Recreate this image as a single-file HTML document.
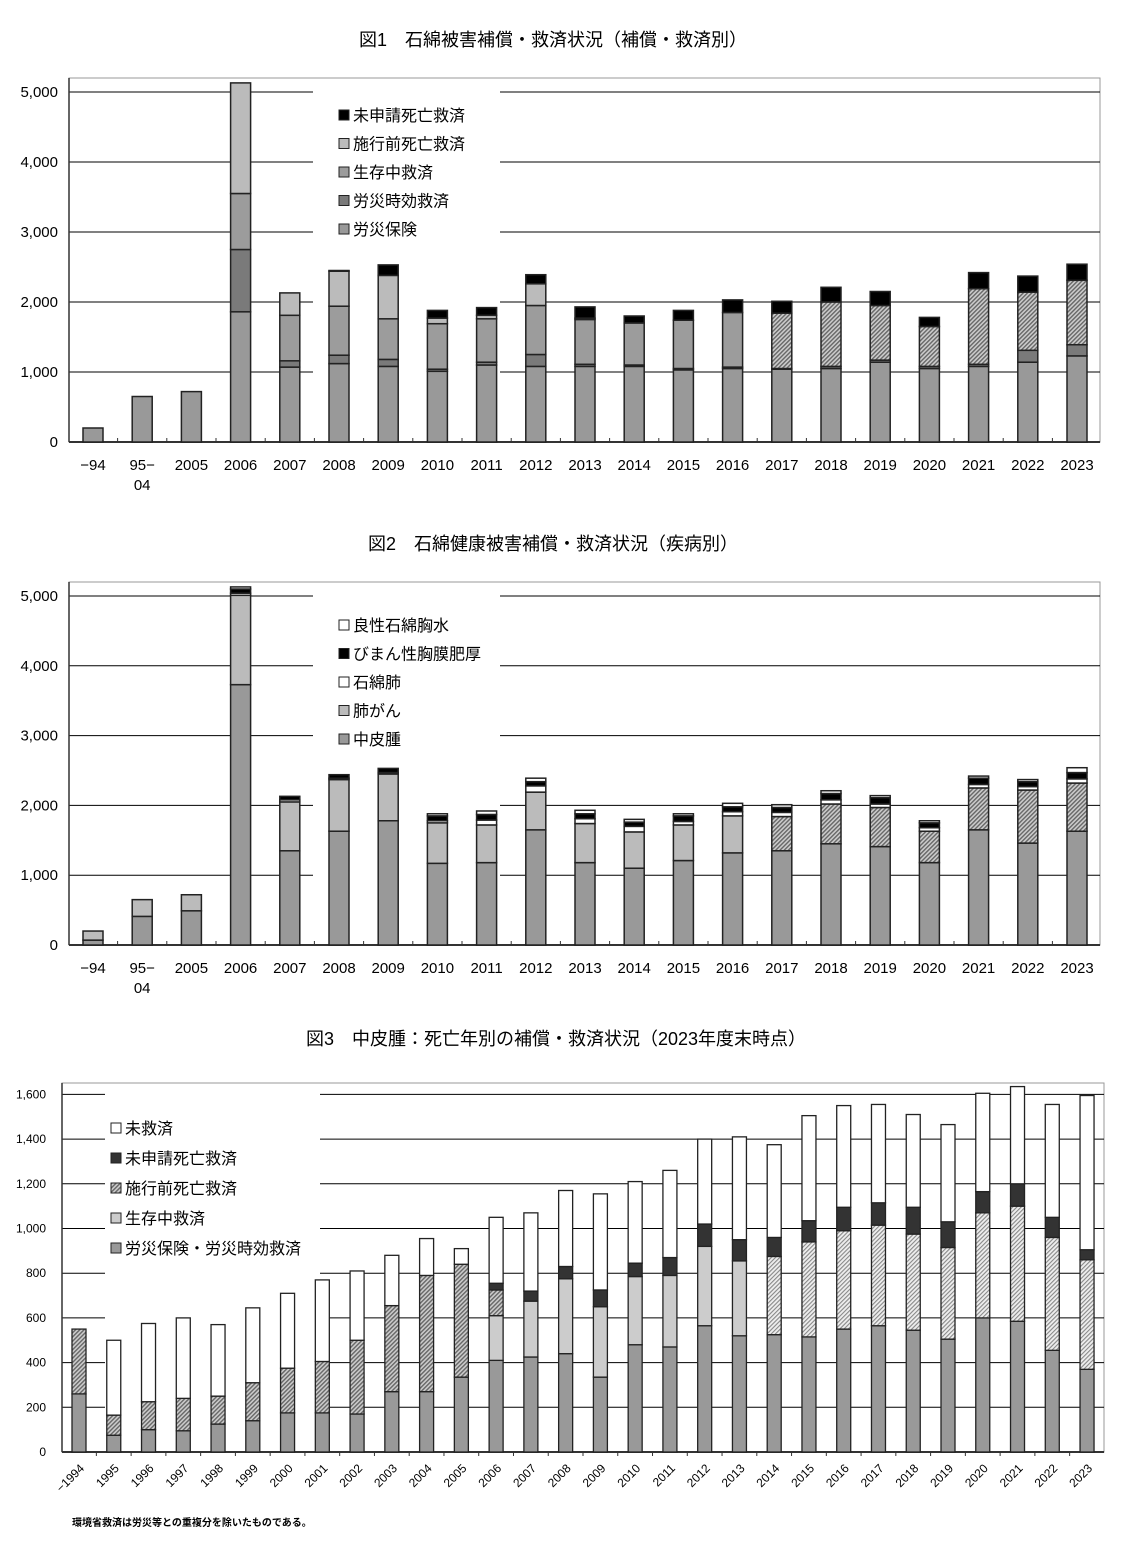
<!DOCTYPE html>
<html><head><meta charset="utf-8"><style>
body{margin:0;background:#fff}
svg text{font-family:"Liberation Sans","Noto Sans CJK JP",sans-serif;fill:#000}
</style></head><body>
<svg id="s" width="1147" height="1543" xmlns="http://www.w3.org/2000/svg">
<defs>
<pattern id="h1" width="3" height="3" patternUnits="userSpaceOnUse" patternTransform="rotate(45)"><rect width="3" height="3" fill="#ccc"/><rect width="1.4" height="3" fill="#666"/></pattern>
<pattern id="h2" width="3" height="3" patternUnits="userSpaceOnUse" patternTransform="rotate(45)"><rect width="3" height="3" fill="#eee"/><rect width="1.1" height="3" fill="#888"/></pattern>
</defs>
</svg>
<script>
const S=document.getElementById('s');let h='';
function t(x,y,s,o){o=o||{};h+=`<text x="${x}" y="${y}" font-size="${o.fs||15}" text-anchor="${o.a||'start'}" ${o.extra||''}>${s}</text>`;}
function r(x,y,w,hh,f,sw){h+=`<rect x="${x}" y="${y}" width="${w}" height="${hh}" fill="${f}" stroke="#222" stroke-width="${sw||1.5}"/>`;}
function l(x1,y1,x2,y2,c,w){h+=`<line x1="${x1}" y1="${y1}" x2="${x2}" y2="${y2}" stroke="${c||'#000'}" stroke-width="${w||1}"/>`;}
const cats=['−94','95−','2005','2006','2007','2008','2009','2010','2011','2012','2013','2014','2015','2016','2017','2018','2019','2020','2021','2022','2023'];
function chart(top,y0,k,max,step,gap,data,colors,legend,lgY,title,titleY){
 t(553,titleY,title,{a:'middle',fs:18});
 h+=`<rect x="69" y="${top}" width="1031" height="${y0-top}" fill="none" stroke="#999"/>`;
 for(let v=step;v<=max;v+=step){const y=y0-v*k;l(69,y,gap[0],y);l(gap[1],y,1100,y);}
 for(let v=0;v<=max;v+=step){t(58,y0-v*k+5,v.toLocaleString('en-US'),{a:'end',fs:15});}
 l(69,top,69,y0,'#333',1.5);l(69,y0,1100,y0,'#333',2);
 data.forEach((d,i)=>{const cx=93+i*49.2;let acc=0;
  d.forEach((v,j)=>{if(v<=0)return;const c=typeof colors[j]=='function'?colors[j](i):colors[j];r(cx-10,y0-(acc+v)*k,20,v*k,c);acc+=v;});
  if(i>0)l(cx-24.6,y0,cx-24.6,y0-4,'#333');
  t(cx,y0+28,cats[i],{a:'middle',fs:15});if(i==1)t(cx,y0+48,'04',{a:'middle',fs:15});
 });
 legend.forEach((g,i)=>{const y=lgY+i*28.5;r(339,y-11,10,10,g[1],1);t(353,y,g[0],{fs:16});});
}
chart(78,442,0.07,5000,1000,[313,500],[
[200],[650],[720],[1860,890,800,1580,0],[1070,90,650,320,0],[1120,120,700,500,10],[1080,100,580,620,150],[1010,30,650,80,110],[1100,40,620,50,110],[1080,170,700,310,130],[1080,30,640,20,160],[1080,20,600,0,100],[1030,20,690,0,140],[1050,20,780,0,180],[1040,10,790,0,170],[1050,30,920,0,210],[1140,30,780,0,200],[1050,30,570,0,130],[1080,30,1080,0,230],[1140,170,830,0,230],[1230,160,920,0,230]],
['#999','#7a7a7a',i=>i>=14?'url(#h1)':'#9c9c9c','#bbb','#000'],
[['未申請死亡救済','#000'],['施行前死亡救済','#bbb'],['生存中救済','#9c9c9c'],['労災時効救済','#7a7a7a'],['労災保険','#999']],121,'図1　石綿被害補償・救済状況（補償・救済別）',46);
chart(582,945,0.0698,5000,1000,[313,500],[
[70,130],[410,240],[490,230],[3730,1280,30,60,30],[1350,700,30,50,0],[1630,740,20,50,0],[1780,670,20,60,0],[1170,580,30,70,30],[1180,540,70,80,50],[1650,540,90,60,50],[1180,560,70,70,50],[1100,520,80,60,40],[1210,510,50,80,30],[1320,530,60,70,50],[1350,490,60,70,40],[1450,570,60,90,40],[1410,560,50,90,30],[1180,450,50,70,30],[1650,600,50,90,30],[1460,760,50,70,30],[1630,690,60,90,70]],
['#999',i=>i>=14?'url(#h1)':'#bbb','#fff','#000','#fff'],
[['良性石綿胸水','#fff'],['びまん性胸膜肥厚','#000'],['石綿肺','#fff'],['肺がん','#bbb'],['中皮腫','#999']],631,'図2　石綿健康被害補償・救済状況（疾病別）',550);
t(556,1045,'図3　中皮腫：死亡年別の補償・救済状況（2023年度末時点）',{a:'middle',fs:18});
const y3=1452,k3=0.2235;
h+=`<rect x="62" y="1083" width="1042" height="${y3-1083}" fill="none" stroke="#999"/>`;
for(let v=200;v<=1600;v+=200){const y=y3-v*k3;l(62,y,105,y);l(320,y,1104,y);}
for(let v=0;v<=1600;v+=200)t(46,y3-v*k3+4,v.toLocaleString('en-US'),{a:'end',fs:12});
l(62,1083,62,y3,'#333',1.5);l(62,y3,1104,y3,'#333',2);
const d3=[[260,290,0,0],[75,0,90,335],[100,0,125,350],[95,0,145,360],[125,0,125,320],[140,0,170,335],[175,0,200,335],[175,0,230,365],[170,0,330,310],[270,0,385,225],[270,0,520,165],[335,0,505,70],
[410,200,115,30,295],[425,250,0,45,350],[440,335,0,55,340],[335,315,0,75,430],[480,305,0,60,365],[470,320,0,80,390],[565,355,0,100,380],[520,335,0,95,460],
[525,350,0,85,415],[515,425,0,95,470],[550,440,0,105,455],[565,450,0,100,440],[545,430,0,120,415],[505,410,0,115,435],[600,470,0,95,440],[585,515,0,100,435],[455,505,0,90,505],[370,490,0,45,690]];
const labs=['−1994'];for(let y=1995;y<=2023;y++)labs.push(''+y);
d3.forEach((d,i)=>{const cx=79+i*34.76;let acc=0;let seq;
 if(i<12){seq=[[d[0],'#999'],[d[1],'url(#h1)'],[d[2],'url(#h1)'],[d[3],'#fff']];}
 else seq=[[d[0],'#999'],[d[1],'#ccc'],[d[2],'url(#h1)'],[d[3],'#333'],[d[4],'#fff']];
 if(i>=20)seq[1][1]='url(#h2)';
 seq.forEach(([v,c])=>{if(v<=0)return;r(cx-7,y3-(acc+v)*k3,14,v*k3,c,1.3);acc+=v;});
 if(i>0)l(cx-17.4,y3,cx-17.4,y3+4,'#333');
 t(cx+6,y3+17,labs[i],{a:'end',fs:12,extra:`transform="rotate(-45 ${cx+6} ${y3+17})"`});
});
[['未救済','#fff'],['未申請死亡救済','#333'],['施行前死亡救済','url(#h1)'],['生存中救済','#ccc'],['労災保険・労災時効救済','#999']].forEach((g,i)=>{const y=1134+i*30;r(111,y-11,10,10,g[1],1);t(125,y,g[0],{fs:16});});
t(72,1526,'環境省救済は労災等との重複分を除いたものである。',{fs:10,extra:'font-weight="bold"'});
S.insertAdjacentHTML('beforeend',h);
</script>
</body></html>
